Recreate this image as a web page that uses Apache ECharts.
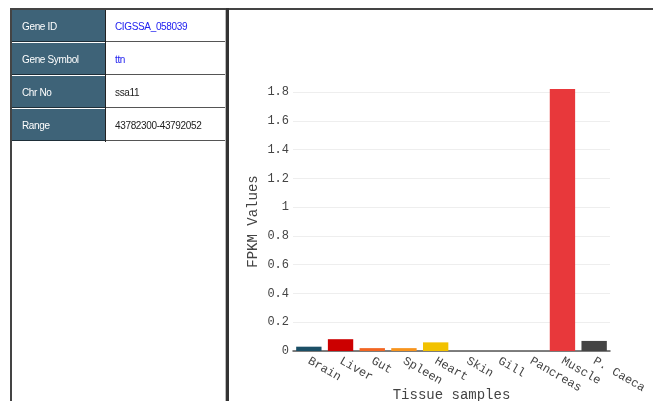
<!DOCTYPE html>
<html><head><meta charset="utf-8">
<script src="https://cdn.jsdelivr.net/npm/echarts@6/dist/echarts.min.js"></script>
<style>
html,body{margin:0;padding:0;width:653px;height:401px;overflow:hidden;background:#fff;}
#chart{position:absolute;left:0;top:0;width:653px;height:401px;}
.ln{position:absolute;}
.hc{position:absolute;left:12px;width:93px;height:32px;background:#3e6378;color:#fff;font:10px "Liberation Sans",Arial,sans-serif;letter-spacing:-0.35px;line-height:33px;box-sizing:border-box;padding-left:10px;border-bottom:1px solid #1e2e38;}
.vc{position:absolute;left:106px;width:119px;height:32px;background:#fff;font:10px "Liberation Sans",Arial,sans-serif;letter-spacing:-0.35px;line-height:33px;box-sizing:border-box;padding-left:9px;border-bottom:1px solid #555;color:#222;}
</style></head><body>
<div id="chart"></div>
<div class="ln" style="left:10px;top:8px;width:643px;height:2px;background:#444;"></div>
<div class="ln" style="left:10px;top:8px;width:2px;height:393px;background:#444;"></div>
<div class="ln" style="left:226px;top:8px;width:3px;height:393px;background:#333;"></div>
<div class="ln" style="left:225px;top:10px;width:1px;height:391px;background:#bbb;"></div>
<div class="ln" style="left:105px;top:10px;width:1px;height:132px;background:#222;"></div>
<div id="tbl"></div>
<script>
const geneFields = ["Gene ID", "Gene Symbol", "Chr No", "Range"];
const geneValues = ["CIGSSA_058039", "ttn", "ssa11", "43782300-43792052"];
const valueColors = ["#2020f0", "#2020f0", "#222", "#222"];

const categories = ["Brain", "Liver", "Gut", "Spleen", "Heart", "Skin", "Gill", "Pancreas", "Muscle", "P. Caeca"];
const fpkmValues = [0.03, 0.082, 0.02, 0.02, 0.06, 0, 0, 0, 1.82, 0.07];
const barColors = ["#1b4f66", "#cc0000", "#f26522", "#f7941d", "#f2c200", "#888", "#888", "#888", "#e8383b", "#444444"];
const yTicks = [0, 0.2, 0.4, 0.6, 0.8, 1, 1.2, 1.4, 1.6, 1.8];

const tbl = document.getElementById('tbl');
geneFields.forEach((f, i) => {
  const top = 10 + i * 33;
  const h = document.createElement('div'); h.className = 'hc'; h.style.top = top + 'px'; h.textContent = f; tbl.appendChild(h);
  const v = document.createElement('div'); v.className = 'vc'; v.style.top = top + 'px'; v.style.color = valueColors[i]; v.textContent = geneValues[i]; tbl.appendChild(v);
});

const chart = echarts.init(document.getElementById('chart'));
const mono = '"Liberation Mono", "DejaVu Sans Mono", monospace';
chart.setOption({
  animation: false,
  grid: { left: 293, right: 43, top: 92, bottom: 50, containLabel: false, outerBoundsMode: 'none' },
  xAxis: {
    type: 'category', data: categories,
    name: 'Tissue samples', nameLocation: 'middle', nameGap: 37, nameMoveOverlap: false,
    nameTextStyle: { fontFamily: mono, fontSize: 14, color: '#444' },
    axisLine: { lineStyle: { color: '#555', width: 1.5 } },
    axisTick: { show: false },
    axisLabel: { rotate: -30, interval: 0, fontFamily: mono, fontSize: 12, color: '#444', margin: 9 }
  },
  yAxis: {
    type: 'value', min: 0, max: yTicks[yTicks.length - 1], interval: 0.2,
    name: 'FPKM Values', nameLocation: 'middle', nameGap: 33, nameMoveOverlap: false,
    nameTextStyle: { fontFamily: mono, fontSize: 14, color: '#444' },
    axisLine: { show: false }, axisTick: { show: false },
    axisLabel: { fontFamily: mono, fontSize: 12, color: '#444', margin: 4,
      formatter: v => String(Math.round(v * 10) / 10) },
    splitLine: { lineStyle: { color: '#eeeeee' } }
  },
  series: [{
    type: 'bar', clip: false, barCategoryGap: '20%',
    data: fpkmValues.map((v, i) => ({ value: v, itemStyle: { color: barColors[i] } }))
  }]
});
</script>
</body></html>
